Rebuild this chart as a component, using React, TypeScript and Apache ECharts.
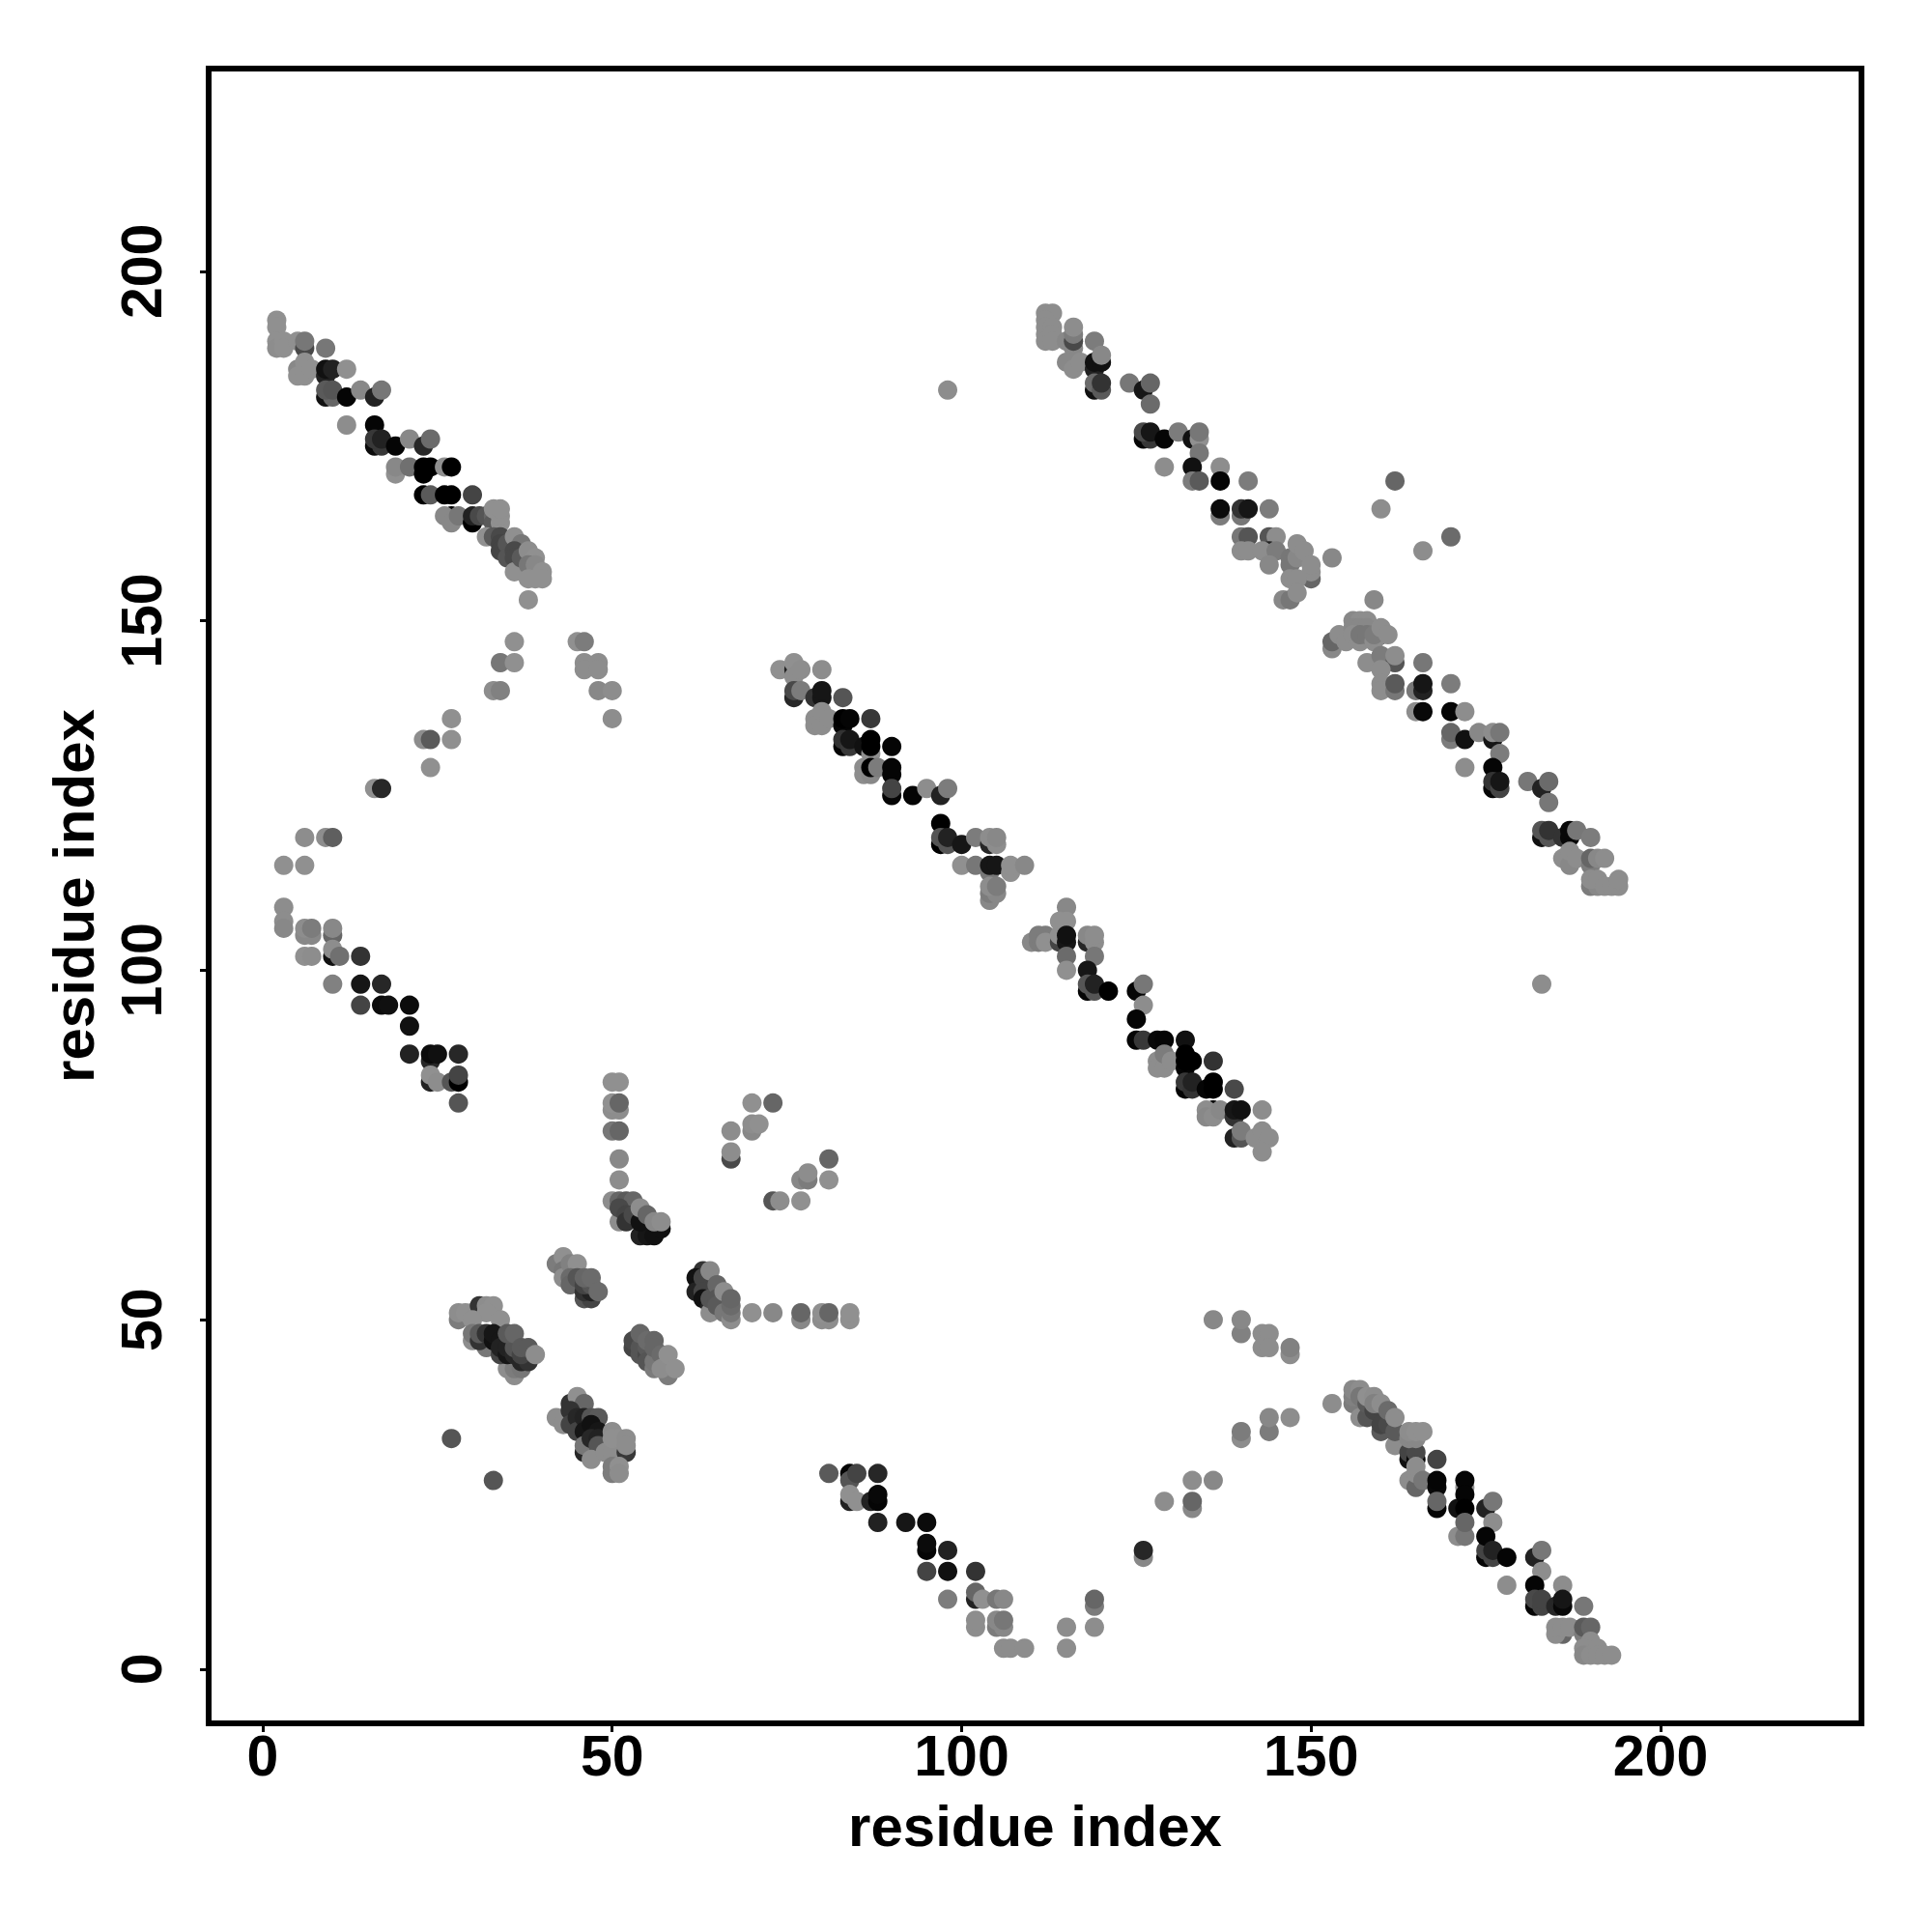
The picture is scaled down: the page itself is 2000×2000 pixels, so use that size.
import React, { useEffect, useRef } from "react";
import * as echarts from "echarts";

type P = [number, number, number];

const axisTicks = [0, 50, 100, 150, 200];
const axisTitle = "residue index";

// each mark: [residue x, residue y, grey level]; listed in drawing order
const upperLeftBand: P[] = [
  [2,193,0x8f],[2,192,0x8f],[2,190,0x8f],[2,189,0x85],[3,190,0x8f],[3,189,0x8f],[5,190,0x8f],[6,189,0x45],[6,190,0x70],[9,189,0x70],
  [6,186,0x20],[5,186,0x80],[5,185,0x8f],[6,187,0x8f],[6,185,0x8f],[7,186,0x8f],[9,185,0x20],[9,186,0x10],[10,186,0x20],[12,186,0x8f],
  [9,182,0x10],[10,182,0x60],[9,183,0x55],[10,183,0x50],[12,182,0x05],[14,183,0x80],[16,182,0x20],[17,183,0x70],
  [12,178,0x85],[16,178,0x05],[16,175,0x0a],[17,175,0x35],[16,176,0x35],[17,176,0x20],[19,175,0x05],[21,176,0x80],[23,175,0x25],[24,176,0x65],
  [19,171,0x8f],[19,172,0x80],[21,172,0x6a],[23,171,0x00],[23,172,0x00],[24,172,0x00],[26,172,0x8f],[27,172,0x00],
  [23,168,0x00],[24,168,0x55],[26,168,0x00],[27,168,0x00],[30,168,0x40],
  [27,165,0x05],[26,165,0x80],[27,164,0x80],[28,165,0x70],[30,164,0x00],[30,165,0x20],[31,165,0x45],[32,165,0x50],[33,165,0x60],[33,164,0x55],
  [34,164,0x8f],[34,165,0x8f],[33,166,0x8f],[34,166,0x8f],[32,162,0x8f],[33,162,0x55],[34,162,0x45],[34,161,0x40],[34,160,0x40],[35,161,0x50],
  [36,162,0x8f],[37,161,0x70],[35,159,0x50],[36,160,0x45],[36,159,0x45],[36,157,0x8f],[37,159,0x55],[38,160,0x85],[39,159,0x8f],[38,158,0x70],
  [39,158,0x80],[38,156,0x8f],[39,156,0x8f],[40,157,0x8f],[40,156,0x8f],[38,153,0x8f],
];

const leftArc: P[] = [
  [36,147,0x8a],[45,147,0x8f],[46,147,0x75],[34,144,0x70],[36,144,0x8a],[46,144,0x85],[46,143,0x85],[48,144,0x85],[48,143,0x85],
  [33,140,0x85],[34,140,0x7a],[48,140,0x80],[50,140,0x85],[50,136,0x85],[27,136,0x8a],[23,133,0x85],[24,133,0x55],[27,133,0x8a],
  [24,129,0x8a],[16,126,0x8a],[17,126,0x25],[6,119,0x85],[9,119,0x85],[10,119,0x5a],[3,115,0x8a],[6,115,0x8a],
  [3,109,0x85],[3,107,0x85],[3,106,0x80],
];

const lowerLeftBand: P[] = [
  [6,105,0x80],[7,105,0x80],[6,106,0x85],[7,106,0x75],[10,105,0x60],[10,106,0x80],[10,102,0x10],[10,103,0x85],[6,102,0x8a],[7,102,0x85],[11,102,0x6a],[14,102,0x30],
  [10,98,0x7a],[14,98,0x15],[17,98,0x25],[14,95,0x40],[17,95,0x0a],[18,95,0x0f],[21,95,0x0a],[21,92,0x10],
  [21,88,0x20],[24,87,0x25],[24,88,0x0a],[25,88,0x0f],[28,88,0x25],[24,84,0x20],[24,85,0x8a],[25,84,0x85],[27,84,0x50],[28,84,0x00],[28,85,0x40],[28,81,0x50],
];

const verticalColumn: P[] = [
  [50,84,0x8a],[51,84,0x8a],[50,80,0x85],[51,80,0x85],[50,81,0x8a],[51,81,0x60],[50,77,0x70],[51,77,0x60],[51,73,0x80],[51,70,0x85],
];

const upperCluster: P[] = [
  [50,67,0x85],[51,64,0x85],[51,67,0x60],[52,67,0x55],[53,67,0x60],[51,66,0x45],[52,65,0x40],[52,64,0x30],[53,65,0x45],[54,62,0x20],[55,62,0x15],[56,62,0x10],
  [54,64,0x10],[54,66,0x85],[55,65,0x60],[57,63,0x10],[56,64,0x80],[57,64,0x85],
];

const centreLeftCluster: P[] = [
  [42,58,0x75],[43,59,0x8a],[43,57,0x70],[43,56,0x85],[44,58,0x7a],[45,58,0x8a],[44,56,0x65],[44,55,0x60],[45,56,0x50],[46,53,0x50],[47,53,0x40],
  [46,54,0x30],[47,54,0x20],[46,55,0x40],[47,55,0x50],[46,56,0x60],[47,56,0x65],[48,54,0x65],
];

const rightUpperCluster: P[] = [
  [63,57,0x30],[62,56,0x10],[62,54,0x20],[63,56,0x40],[64,57,0x80],[63,54,0x40],[63,53,0x10],[64,52,0x25],[64,51,0x85],[64,53,0x50],[65,55,0x60],[65,53,0x50],[65,52,0x55],[66,51,0x70],[66,54,0x85],
  [67,50,0x85],[67,51,0x70],[67,52,0x65],[67,53,0x60],
  [70,51,0x8a],[73,51,0x80],[77,50,0x80],[77,51,0x60],[80,50,0x85],[81,50,0x85],[80,51,0x8a],[81,51,0x60],[84,50,0x8a],[84,51,0x8a],
];

const scatteredTopRight: P[] = [
  [70,81,0x8a],[73,81,0x60],[70,77,0x80],[70,78,0x85],[71,78,0x8a],[67,77,0x85],[67,73,0x45],[67,74,0x85],[81,73,0x60],[77,70,0x80],[78,70,0x75],[78,71,0x85],[81,70,0x8a],[73,67,0x50],[74,67,0x85],[77,67,0x8a],
];

const leftDenseCluster: P[] = [
  [28,50,0x75],[28,51,0x85],[29,51,0x8a],[30,51,0x8a],[31,52,0x30],[32,52,0x85],[33,52,0x8a],[32,51,0x8a],[30,50,0x8a],[34,50,0x8a],
  [30,47,0x85],[30,48,0x70],[32,46,0x70],[31,47,0x30],[31,48,0x55],[32,48,0x30],[33,47,0x10],[33,48,0x15],[34,47,0x15],[35,43,0x85],[36,42,0x85],[36,43,0x75],[37,43,0x70],
  [34,45,0x40],[34,46,0x20],[35,45,0x15],[35,46,0x20],[36,45,0x25],[36,46,0x50],[35,48,0x55],[36,48,0x60],[37,44,0x25],[38,44,0x30],[37,45,0x40],[37,46,0x55],[38,46,0x55],[39,45,0x85],
];

const rightLowerCluster: P[] = [
  [53,46,0x40],[53,47,0x45],[54,45,0x50],[54,46,0x50],[54,48,0x60],[55,45,0x45],[55,46,0x55],[55,47,0x65],[56,47,0x60],[55,44,0x50],[56,43,0x75],[56,44,0x70],[56,46,0x60],[57,45,0x65],[58,42,0x75],[57,43,0x85],[58,45,0x8a],[59,43,0x8a],
];

const lowerCentreCluster: P[] = [
  [42,36,0x85],[43,35,0x85],[44,38,0x30],[45,39,0x8a],[46,38,0x60],[44,37,0x30],[44,35,0x40],[45,36,0x25],[45,34,0x40],[46,36,0x20],[46,34,0x15],[46,31,0x25],[46,32,0x70],
  [47,36,0x50],[48,36,0x55],[47,35,0x10],[48,34,0x15],[47,33,0x25],[48,33,0x20],[48,32,0x50],[47,30,0x85],[49,31,0x85],[50,31,0x85],
  [52,31,0x35],[50,34,0x85],[50,33,0x8a],[51,33,0x8a],[52,33,0x85],[52,32,0x85],[50,28,0x75],[50,29,0x75],[51,29,0x8a],[51,28,0x85],
];

const soloMarks: P[] = [
  [27,33,0x50],[33,27,0x50],[98,183,0x85],[183,98,0x85],[162,170,0x60],[160,166,0x85],[166,160,0x85],[170,162,0x65],[159,153,0x80],[153,159,0x80],
];

const lowerValley: P[] = [
  [81,28,0x55],[84,28,0x05],[84,27,0x50],[85,28,0x40],[88,28,0x25],[84,24,0x20],[84,25,0x8a],[85,24,0x8a],[87,24,0x20],[88,24,0x05],[88,25,0x08],
  [88,21,0x20],[92,21,0x15],[95,21,0x0a],[95,17,0x05],[95,18,0x0a],[98,17,0x20],[95,14,0x40],[98,14,0x10],[102,14,0x30],
  [98,10,0x75],[102,10,0x20],[102,11,0x60],[103,10,0x8a],[105,10,0x70],[106,10,0x80],[102,6,0x85],[102,7,0x85],[105,6,0x75],[106,6,0x80],[105,7,0x80],[106,7,0x70],
  [106,3,0x85],[107,3,0x85],[109,3,0x85],[115,6,0x85],[115,3,0x85],[119,9,0x75],[119,10,0x60],[119,6,0x85],[126,16,0x80],[126,17,0x25],
  [129,24,0x85],[133,27,0x85],[133,23,0x80],[133,24,0x60],
];

const lowerRightBand: P[] = [
  [136,50,0x80],[140,48,0x7a],[140,50,0x80],[143,48,0x85],[144,48,0x85],[143,46,0x85],[144,46,0x85],[147,45,0x85],[147,46,0x7a],
  [144,34,0x75],[144,36,0x80],[147,36,0x85],[140,33,0x85],[140,34,0x75],[136,27,0x80],
  [153,38,0x85],[156,38,0x75],[156,39,0x7a],[156,40,0x80],[157,40,0x85],[157,36,0x85],[157,39,0x70],[158,36,0x50],[158,38,0x55],[158,39,0x8a],[159,39,0x85],
  [159,37,0x40],[159,38,0x7a],[160,34,0x55],[160,35,0x40],[160,38,0x85],[161,35,0x45],[161,37,0x65],[162,32,0x85],[162,34,0x55],[162,36,0x85],
  [164,30,0x10],[164,31,0x40],[165,30,0x05],[165,31,0x45],[164,33,0x80],[165,33,0x80],[164,34,0x85],[165,34,0x8a],[166,34,0x8a],
  [165,27,0x15],[164,27,0x85],[165,26,0x60],[165,28,0x85],[165,29,0x85],[166,27,0x70],[168,30,0x40],[168,26,0x08],[168,27,0x05],[168,23,0x05],[168,24,0x60],
  [172,26,0x85],[172,27,0x05],[171,23,0x10],[172,25,0x05],[172,23,0x00],[171,19,0x85],[172,19,0x70],[172,21,0x60],[175,23,0x20],[176,24,0x70],[176,21,0x85],
  [175,16,0x05],[175,17,0x40],[175,19,0x05],[176,16,0x40],[176,17,0x20],[178,16,0x05],[178,12,0x85],
  [182,16,0x20],[183,17,0x70],[183,14,0x85],[182,12,0x05],[186,12,0x85],[182,9,0x05],[182,10,0x45],[183,9,0x40],[183,10,0x40],[185,9,0x25],[186,9,0x08],[186,10,0x15],[189,9,0x70],
  [186,5,0x60],[185,5,0x85],[185,6,0x85],[186,6,0x85],[187,6,0x85],[189,5,0x75],[189,6,0x55],[190,6,0x60],[190,4,0x85],[189,3,0x85],[189,2,0x80],[190,2,0x85],[191,3,0x85],[191,2,0x85],[192,2,0x85],[193,2,0x85],
];

const middleBand: P[] = [
  [74,143,0x8a],[76,143,0x20],[76,144,0x8a],[76,142,0x85],[77,143,0x85],[80,143,0x85],[76,139,0x25],[76,140,0x45],[77,140,0x75],[79,139,0x30],[80,139,0x15],[80,140,0x15],[83,139,0x50],
  [80,136,0x10],[79,136,0x85],[79,135,0x85],[80,135,0x85],[80,137,0x85],[81,136,0x85],[83,135,0x05],[83,136,0x00],[84,136,0x05],[87,136,0x35],
  [83,132,0x05],[83,133,0x30],[84,132,0x35],[84,133,0x15],[86,132,0x10],[87,131,0x8a],[87,132,0x00],[87,133,0x00],[86,129,0x85],[86,128,0x85],[87,128,0x80],[87,129,0x00],[88,129,0x75],
  [90,132,0x05],[90,128,0x05],[90,129,0x05],[90,125,0x05],[90,126,0x40],[93,125,0x05],[95,126,0x85],[97,125,0x20],[98,126,0x75],
  [97,121,0x00],[97,118,0x00],[97,119,0x50],[98,118,0x50],[98,119,0x20],[100,118,0x15],[102,119,0x75],[104,118,0x25],[105,118,0x85],[104,119,0x85],[105,119,0x80],
  [100,115,0x8a],[102,115,0x70],[104,114,0x70],[104,115,0x15],[105,115,0x15],[107,114,0x8a],[107,115,0x8a],[109,115,0x80],
  [104,110,0x80],[104,111,0x75],[105,111,0x80],[104,112,0x85],[105,112,0x75],
  [110,104,0x80],[111,104,0x75],[111,105,0x75],[112,105,0x75],[112,104,0x8a],[114,104,0x40],[114,105,0x8a],[115,109,0x80],[114,107,0x8a],[115,107,0x8a],[115,104,0x15],[115,105,0x10],[115,102,0x65],[115,100,0x8a],
  [118,104,0x25],[118,105,0x80],[119,104,0x85],[119,105,0x85],[119,102,0x70],[118,100,0x15],[118,97,0x05],[118,98,0x50],[119,97,0x50],[119,98,0x20],[121,97,0x00],
  [125,97,0x05],[126,98,0x70],[126,95,0x85],[125,93,0x05],[125,90,0x05],[126,90,0x35],[128,90,0x08],[129,90,0x05],[132,90,0x10],
  [129,87,0x00],[128,87,0x85],[128,86,0x85],[129,86,0x85],[129,88,0x75],[130,87,0x85],[132,86,0x05],[132,87,0x00],[132,88,0x00],[133,87,0x00],[136,87,0x30],
  [132,83,0x05],[132,84,0x35],[133,83,0x30],[133,84,0x20],[135,83,0x05],[136,83,0x00],[136,84,0x00],[139,83,0x45],
  [136,80,0x05],[135,80,0x85],[135,79,0x80],[136,79,0x85],[137,80,0x80],[139,79,0x30],[139,80,0x15],[140,80,0x10],[143,80,0x85],
  [139,76,0x20],[140,76,0x50],[140,77,0x75],[143,76,0x20],[142,76,0x85],[143,77,0x85],[144,76,0x85],[143,74,0x85],
];

const upperRightBand: P[] = [
  [112,194,0x85],[113,194,0x85],[112,193,0x85],[112,192,0x85],[112,191,0x85],[112,190,0x85],[113,192,0x85],[113,191,0x85],[113,190,0x85],[115,190,0x80],
  [116,187,0x20],[116,189,0x80],[116,190,0x45],[116,191,0x75],[116,192,0x85],[115,187,0x80],[116,186,0x85],[117,187,0x85],[119,190,0x75],[119,186,0x20],[119,187,0x10],[120,187,0x10],[120,188,0x80],
  [119,183,0x10],[119,184,0x65],[120,183,0x55],[120,184,0x30],[124,184,0x70],[126,183,0x15],[127,184,0x60],[127,181,0x65],
  [126,176,0x05],[127,176,0x35],[126,177,0x45],[127,177,0x15],[129,176,0x05],[131,177,0x75],[133,176,0x10],[134,176,0x8a],[134,177,0x70],[134,174,0x70],
  [129,172,0x85],[133,172,0x10],[133,170,0x75],[134,170,0x55],[137,172,0x85],[137,170,0x05],[141,170,0x75],
  [137,165,0x75],[137,166,0x0a],[140,165,0x70],[140,166,0x30],[141,166,0x15],[144,166,0x75],
  [140,162,0x70],[141,162,0x50],[144,162,0x50],[145,162,0x85],[144,160,0x20],[140,160,0x85],[141,160,0x85],[143,160,0x85],[145,160,0x75],[144,158,0x80],
  [147,159,0x70],[147,158,0x70],[148,159,0x80],[148,161,0x85],[149,160,0x85],[150,156,0x60],[150,157,0x85],[150,158,0x85],[147,156,0x85],[148,156,0x85],[146,153,0x80],[147,153,0x70],[148,154,0x85],
];

const farRightBand: P[] = [
  [153,146,0x80],[153,147,0x60],[154,148,0x85],[155,147,0x85],[156,150,0x80],[157,150,0x85],[158,150,0x85],[156,149,0x80],[157,149,0x80],[158,149,0x80],[156,148,0x85],
  [157,147,0x85],[157,148,0x70],[158,148,0x70],[160,148,0x20],[159,147,0x85],[159,148,0x75],[160,149,0x85],[161,148,0x85],
  [160,144,0x35],[158,144,0x85],[160,145,0x75],[162,144,0x50],[162,145,0x85],[160,143,0x85],[160,141,0x85],[160,140,0x85],[162,140,0x70],[162,141,0x55],
  [165,140,0x70],[166,140,0x20],[166,141,0x15],[166,144,0x70],[170,141,0x75],[165,137,0x85],[166,137,0x08],[170,137,0x05],[172,137,0x85],
  [170,133,0x75],[170,134,0x60],[172,133,0x10],[174,134,0x80],[176,133,0x15],[176,134,0x85],[177,134,0x70],[177,131,0x75],[172,129,0x85],[176,129,0x05],
  [176,126,0x05],[176,127,0x30],[177,126,0x40],[177,127,0x15],[181,127,0x70],[183,126,0x20],[184,127,0x65],[184,124,0x70],
  [183,119,0x10],[183,120,0x50],[184,119,0x50],[184,120,0x30],[186,119,0x30],[187,119,0x08],[187,120,0x08],[188,120,0x70],[190,119,0x75],
  [187,116,0x20],[186,116,0x85],[187,115,0x80],[187,117,0x85],[188,116,0x85],[190,115,0x75],[190,116,0x60],[191,116,0x80],[192,116,0x85],
  [190,112,0x75],[191,112,0x80],[190,113,0x85],[191,113,0x85],[192,112,0x85],[193,112,0x85],[194,112,0x85],[194,113,0x85],
];

const allMarks: P[] = [
  ...upperLeftBand, ...leftArc, ...lowerLeftBand, ...verticalColumn, ...upperCluster, ...centreLeftCluster,
  ...rightUpperCluster, ...scatteredTopRight, ...leftDenseCluster, ...rightLowerCluster, ...lowerCentreCluster,
  ...soloMarks, ...lowerValley, ...lowerRightBand, ...middleBand, ...upperRightBand, ...farRightBand,
];

const font = "'Liberation Sans', Arial, sans-serif";
const shade = (g: number) => Math.min(0x90, Math.round(g * 1.06));

export default function App() {
  const ref = useRef<HTMLDivElement>(null);
  useEffect(() => {
    const chart = echarts.init(ref.current!, null, { renderer: "svg" });
    const axisBase = {
      type: "value" as const,
      name: axisTitle,
      nameLocation: "middle" as const,
      nameTextStyle: { fontFamily: font, fontWeight: "bold" as const, fontSize: 60, color: "#000" },
      splitLine: { show: false },
      axisLine: { show: false, onZero: false },
      axisTick: { show: true, length: 9, inside: false, customValues: axisTicks, lineStyle: { color: "#000", width: 3 } },
    };
    const label = { show: true, fontFamily: font, fontWeight: "bold" as const, fontSize: 59, color: "#000", customValues: axisTicks, showMinLabel: true, showMaxLabel: true, hideOverlap: false };
    chart.setOption({
      animation: false,
      backgroundColor: "#fff",
      grid: { show: true, left: 216, right: 73, top: 71, bottom: 216, borderColor: "#000", borderWidth: 6, backgroundColor: "transparent" },
      xAxis: { ...axisBase, min: -7.74, max: 228.75, nameGap: 76, axisLabel: { ...label, margin: 4 } },
      yAxis: { ...axisBase, min: -7.75, max: 229.0, nameGap: 110, nameRotate: 90, axisLabel: { ...label, rotate: 90, margin: 40 } },
      series: [{
        type: "scatter",
        symbol: "circle",
        symbolSize: 20,
        itemStyle: { opacity: 1 },
        data: allMarks.map(([x, y, g]) => {
          const v = shade(g);
          return { value: [x, y], itemStyle: { color: `rgb(${v},${v},${v})` } };
        }),
      }],
    });
    return () => chart.dispose();
  }, []);
  return <div ref={ref} style={{ position: "absolute", left: 0, top: 0, width: 2000, height: 2000 }} />;
}
